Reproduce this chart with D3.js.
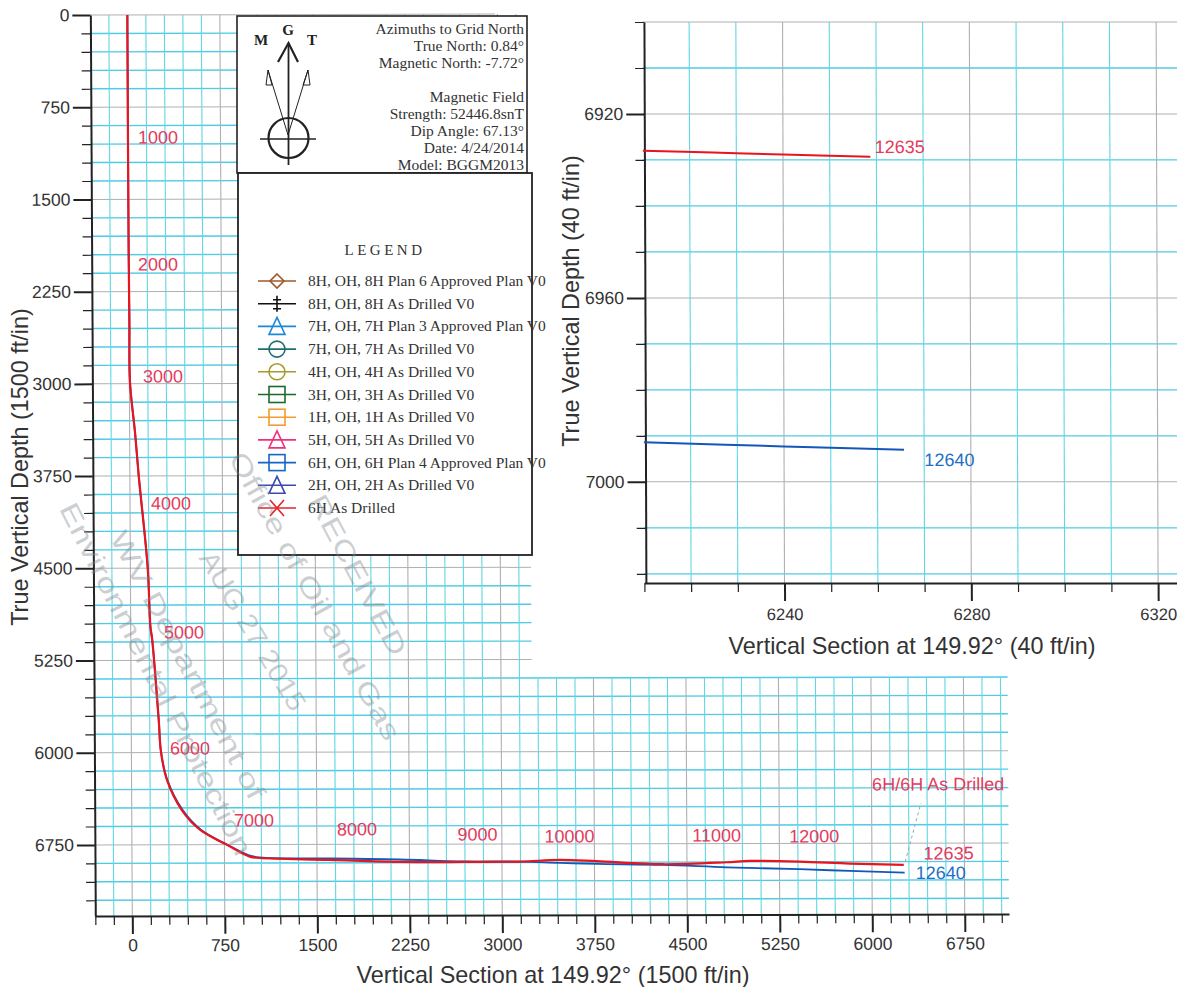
<!DOCTYPE html>
<html>
<head>
<meta charset="utf-8">
<script src="https://d3js.org/d3.v7.min.js"></script>
<style>
  html, body { margin: 0; background: #fff; overflow: hidden; }
  svg { display: block; }
  text { font-family: "Liberation Sans", Arial, sans-serif; }
  .serif text, text.serif { font-family: "Liberation Serif", "Times New Roman", serif; }
  .axis path, .axis line { stroke: #222; }
  .axis path { stroke-width: 2px; }
  .axis.major line { stroke-width: 2px; }
  .axis.minor line { stroke-width: 1.2px; }
  .axis text { fill: #333; font-family: "Liberation Sans", Arial, sans-serif; }
</style>
</head>
<body>
<svg id="chart" width="1177" height="987"></svg>
<script>
// well paths, vertical section / true vertical depth
const drilledVs = [0, 0, 3, 5, 44, 71, 140, 160, 174, 223, 240, 287, 405, 552, 768, 955, 1036, 1603, 2170, 2681, 3145, 3468, 3768, 4303, 4822, 5009, 5414, 5820, 6258];
const drilledTvd = [0, 1911, 2497, 2985, 3400, 3741, 4489, 4977, 5083, 5734, 5994, 6222, 6466, 6628, 6750, 6848, 6859, 6876, 6894, 6895, 6893, 6880, 6891, 6917, 6902, 6892, 6898, 6915, 6927];
const planVs = [0, 0, 3, 5, 44, 71, 140, 160, 174, 223, 240, 290, 412, 560, 768, 950, 1036, 1603, 2170, 2681, 3145, 3468, 3768, 4303, 4822, 5414, 5820, 6265];
const planTvd = [0, 1911, 2497, 2985, 3400, 3741, 4489, 4977, 5083, 5734, 5994, 6222, 6466, 6628, 6748, 6838, 6854, 6864, 6874, 6891, 6893, 6905, 6913, 6923, 6943, 6960, 6975, 6990];

// the same wells close up, in the inset
const insetDrilledVs = [6210, 6225, 6240, 6258.7];
const insetDrilledTvd = [6928, 6928.4, 6928.8, 6929.3];
const insetPlanVs = [6210, 6240, 6265.7];
const insetPlanTvd = [6991.4, 6992.3, 6993];

// measured depth labels, placed in chart units
const depthLabels = ['1000', '2000', '3000', '4000', '5000', '6000', '7000', '8000', '9000', '10000', '11000', '12000'];
const depthLabelVs = [243, 237, 272, 332, 431, 476, 991, 1826, 2803, 3549, 4741, 5533];
const depthLabelTvd = [1046, 2079, 2990, 4023, 5072, 6016, 6603, 6677, 6720, 6738, 6733, 6742];

const mainMajorTicks = d3.range(0, 7500, 750);
const mainMinorTicksX = d3.range(-300, 7200, 150);
const mainMinorTicksY = d3.range(0, 7300, 150);
const insetMajorX = [6240, 6280, 6320];
const insetMinorX = d3.range(6210, 6330, 10);
const insetMajorY = [6920, 6960, 7000];
const insetMinorY = d3.range(6900, 7030, 10);

const legendNames = ['8H, OH, 8H Plan 6 Approved Plan V0', '8H, OH, 8H As Drilled V0', '7H, OH, 7H Plan 3 Approved Plan V0', '7H, OH, 7H As Drilled V0', '4H, OH, 4H As Drilled V0', '3H, OH, 3H As Drilled V0', '1H, OH, 1H As Drilled V0', '5H, OH, 5H As Drilled V0', '6H, OH, 6H Plan 4 Approved Plan V0', '2H, OH, 2H As Drilled V0', '6H As Drilled'];
const legendColors = ['#a0582a', '#111111', '#1e88d8', '#1f6f70', '#a89a2a', '#1c6a2a', '#f59a30', '#f0307a', '#1565c8', '#3a4ab0', '#e8202a'];
const legendSymbols = ['diamond', 'bar', 'triangle', 'circle', 'circle', 'square', 'square', 'triangle', 'square', 'triangle', 'cross'];

const northLines = ['Azimuths to Grid North', 'True North: 0.84°', 'Magnetic North: -7.72°', '', 'Magnetic Field', 'Strength: 52446.8snT', 'Dip Angle: 67.13°', 'Date: 4/24/2014', 'Model: BGGM2013'];

const RED = '#e8141e';
const BLUE = '#1557b8';
const LABEL_RED = '#e63a5c';
const LABEL_BLUE = '#1f6fc4';
const GRID_CYAN = '#4fcbe4';
const GRID_GRAY = '#b0b0b4';

const svg = d3.select('#chart');
const path = (vs, tvd, x, y) =>
  d3.line().curve(d3.curveCatmullRom.alpha(0.5)).x(i => x(vs[i])).y(i => y(tvd[i]))(d3.range(vs.length));

const drawAxis = (g, makeAxis, scale, major, minor, fontSize, padding) => {
  const minorAxis = makeAxis(scale).tickValues(minor.filter(v => !major.includes(v))).tickSize(9).tickSizeOuter(0).tickFormat('');
  const majorAxis = makeAxis(scale).tickValues(major).tickSize(18).tickSizeOuter(0).tickPadding(padding).tickFormat(d => d);
  g.append('g').attr('class', 'axis minor').call(minorAxis);
  g.append('g').attr('class', 'axis major').call(majorAxis).attr('font-size', fontSize).select('.domain').remove();
};

const drawMain = () => {
  // the page was scanned a little out of square
  const a = 0.0055;
  const b = -0.0022;
  const g = svg.append('g').attr('transform', `matrix(1,${b},${a},1,${-a * 916},${-b * 96})`);
  const x = d3.scaleLinear().domain([-300, 7109]).range([95.3, 1009]);
  const y = d3.scaleLinear().domain([0, 7328]).range([15, 916]);
  const wideFrom = 5400;
  const narrowTo = 533;

  g.selectAll('.grid-h')
    .data(mainMinorTicksY)
    .enter()
    .append('line')
    .attr('x1', x(-300))
    .attr('x2', d => (d < 1300 ? 500 : d < wideFrom ? narrowTo : x(7109)))
    .attr('y1', d => y(d))
    .attr('y2', d => y(d))
    .attr('stroke', d => (d % 750 === 0 ? GRID_GRAY : GRID_CYAN))
    .attr('stroke-width', d => (d % 750 === 0 ? 1 : 1.4));

  g.selectAll('.grid-v')
    .data(mainMinorTicksX.filter(d => d > -300))
    .enter()
    .append('line')
    .attr('x1', d => x(d))
    .attr('x2', d => x(d))
    .attr('y1', d => (d > 3150 ? y(wideFrom) : y(0)))
    .attr('y2', y(7328))
    .attr('stroke', d => (d % 750 === 0 ? GRID_GRAY : '#62d6e4'))
    .attr('stroke-width', 1.1);

  const xAxis = g.append('g').attr('transform', `translate(0,${y(7328)})`);
  drawAxis(xAxis, d3.axisBottom, x, mainMajorTicks.slice(0, 10), mainMinorTicksX, 17.5, 5);
  const yAxis = g.append('g').attr('transform', `translate(${x(-300)},0)`);
  drawAxis(yAxis, d3.axisLeft, y, mainMajorTicks.slice(0, 10), mainMinorTicksY, 17.5, 3);

  g.append('path').attr('d', path(planVs, planTvd, x, y)).attr('fill', 'none').attr('stroke', BLUE).attr('stroke-width', 1.8);
  g.append('path').attr('d', path(drilledVs, drilledTvd, x, y)).attr('fill', 'none').attr('stroke', RED).attr('stroke-width', 2.2);

  g.selectAll('.depth')
    .data(depthLabels)
    .enter()
    .append('text')
    .attr('x', (d, i) => x(depthLabelVs[i]))
    .attr('y', (d, i) => y(depthLabelTvd[i]))
    .attr('text-anchor', 'middle')
    .attr('font-size', 18)
    .attr('fill', LABEL_RED)
    .text(d => d);

  // leader to the well name and the end labels
  g.append('line')
    .attr('x1', x(6270)).attr('y1', y(6900))
    .attr('x2', x(6400)).attr('y2', y(6424))
    .attr('stroke', '#9aa').attr('stroke-dasharray', '3 3').attr('stroke-width', 1);

  const endLabel = (text, vs, tvd, color) =>
    g.append('text').attr('x', x(vs)).attr('y', y(tvd)).attr('text-anchor', 'middle')
      .attr('font-size', 18).attr('fill', color).text(text);
  endLabel('6H/6H As Drilled', 6540, 6321, LABEL_RED);
  endLabel('12635', 6622, 6883, LABEL_RED);
  endLabel('12640', 6557, 7042, LABEL_BLUE);
};

const drawInset = () => {
  const g = svg.append('g').attr('transform', `matrix(1,0,0.0035,1,${-0.0035 * 582},0)`);
  const x = d3.scaleLinear().domain([6210, 6330]).range([644.4, 1204.8]);
  const y = d3.scaleLinear().domain([6900, 7022]).range([22, 583]);

  g.selectAll('.grid-h')
    .data(insetMinorY)
    .enter()
    .append('line')
    .attr('x1', x(6210)).attr('x2', 1190)
    .attr('y1', d => y(d)).attr('y2', d => y(d))
    .attr('stroke', d => (insetMajorY.includes(d) || d === 6900 ? GRID_GRAY : GRID_CYAN))
    .attr('stroke-width', d => (insetMajorY.includes(d) || d === 6900 ? 1 : 1.3));

  g.selectAll('.grid-v')
    .data(insetMinorX.filter(d => d > 6210))
    .enter()
    .append('line')
    .attr('x1', d => x(d)).attr('x2', d => x(d))
    .attr('y1', y(6900)).attr('y2', y(7022))
    .attr('stroke', d => (insetMajorX.includes(d) ? GRID_GRAY : '#62d6e4'))
    .attr('stroke-width', 1.1);

  const xAxis = g.append('g').attr('transform', `translate(0,${y(7022)})`);
  drawAxis(xAxis, d3.axisBottom, x, insetMajorX, insetMinorX, 16.6, 7);
  const yAxis = g.append('g').attr('transform', `translate(${x(6210) + 1.5},0)`);
  drawAxis(yAxis, d3.axisLeft, y, insetMajorY, insetMinorY, 17.5, 3);

  g.append('path').attr('d', path(insetDrilledVs, insetDrilledTvd, x, y)).attr('fill', 'none').attr('stroke', RED).attr('stroke-width', 2);
  g.append('path').attr('d', path(insetPlanVs, insetPlanTvd, x, y)).attr('fill', 'none').attr('stroke', BLUE).attr('stroke-width', 2);

  const endLabel = (text, vs, tvd, color) =>
    g.append('text').attr('x', x(vs)).attr('y', y(tvd)).attr('text-anchor', 'middle')
      .attr('font-size', 18).attr('fill', color).text(text);
  endLabel('12635', 6265, 6928.4, LABEL_RED);
  endLabel('12640', 6275.4, 6996.5, LABEL_BLUE);
};

const drawTitles = () => {
  const title = (text, x, y, size, rotate) =>
    svg.append('text')
      .attr('transform', `translate(${x},${y}) rotate(${rotate})`)
      .attr('text-anchor', 'middle')
      .attr('font-size', size)
      .attr('fill', '#333')
      .text(text);
  title('Vertical Section at 149.92° (1500 ft/in)', 553, 983, 23.4, 0);
  title('True Vertical Depth (1500 ft/in)', 28, 467, 23.4, -90);
  title('Vertical Section at 149.92° (40 ft/in)', 912, 654, 23.4, 0);
  title('True Vertical Depth (40 ft/in)', 579, 301, 23.4, -90);
};

const drawNorthBox = () => {
  const g = svg.append('g').attr('class', 'serif');
  g.append('rect').attr('x', 237).attr('y', 16).attr('width', 290).attr('height', 157)
    .attr('fill', '#fff').attr('stroke', '#222').attr('stroke-width', 1.6);
  g.selectAll('.north')
    .data(northLines)
    .enter()
    .append('text')
    .attr('x', 524)
    .attr('y', (d, i) => 34 + i * 17)
    .attr('text-anchor', 'end')
    .attr('font-size', 15.5)
    .attr('fill', '#333')
    .text(d => d);

  const compass = g.append('g').attr('fill', 'none').attr('stroke', '#222');
  compass.append('circle').attr('cx', 288.5).attr('cy', 138).attr('r', 20).attr('stroke-width', 2.2);
  compass.append('path').attr('d', 'M260,139H316').attr('stroke-width', 1.6);
  compass.append('path').attr('d', 'M288.5,165V43').attr('stroke-width', 1.8);
  compass.append('path').attr('d', 'M278,62L288.5,43L298,62').attr('stroke-width', 2.2);
  compass.append('path').attr('d', 'M288,135L268,70L266,85H272L268,70').attr('stroke-width', 1);
  compass.append('path').attr('d', 'M288,135L308,70L303,85H310L308,70').attr('stroke-width', 1);
  [['M', 261, 45], ['G', 288, 35], ['T', 312, 45]].forEach(([t, x, y]) =>
    g.append('text').attr('x', x).attr('y', y).attr('text-anchor', 'middle')
      .attr('font-size', 15).attr('font-weight', 'bold').attr('fill', '#222').text(t));
};

const drawSymbol = (g, type, color) => {
  g.append('line').attr('x1', -19).attr('x2', 19).attr('stroke', color).attr('stroke-width', 1.6);
  const s = g.append('g').attr('fill', 'none').attr('stroke', color).attr('stroke-width', 1.6);
  if (type === 'diamond') s.append('path').attr('d', 'M0,-7L7,0L0,7L-7,0Z');
  if (type === 'bar') s.append('path').attr('d', 'M0,-8V8M-4,-4H4M-4,5H4');
  if (type === 'triangle') s.append('path').attr('d', 'M0,-9L8,8H-8Z');
  if (type === 'circle') s.append('circle').attr('r', 8);
  if (type === 'square') s.append('rect').attr('x', -8).attr('y', -8).attr('width', 16).attr('height', 16);
  if (type === 'cross') s.append('path').attr('d', 'M-7,-8L7,8M-7,8L7,-8');
};

const drawLegend = () => {
  const g = svg.append('g').attr('class', 'serif');
  g.append('rect').attr('x', 238).attr('y', 173).attr('width', 294).attr('height', 382)
    .attr('fill', '#fff').attr('stroke', '#222').attr('stroke-width', 1.8);
  g.append('text').attr('x', 385).attr('y', 255).attr('text-anchor', 'middle')
    .attr('font-size', 15).attr('letter-spacing', 3.5).attr('fill', '#333').text('LEGEND');
  const rowY = d3.scaleLinear().domain([0, 10]).range([281, 508]);
  const rows = g.selectAll('.row')
    .data(legendNames)
    .enter()
    .append('g')
    .attr('transform', (d, i) => `translate(277,${rowY(i)})`);
  rows.each(function (d, i) {
    drawSymbol(d3.select(this), legendSymbols[i], legendColors[i]);
  });
  rows.append('text')
    .attr('x', 31)
    .attr('y', 5)
    .attr('font-size', 15.5)
    .attr('fill', '#333')
    .text(d => d);
};

const drawStamp = () => {
  const lines = [
    ['RECEIVED', 356, 576, 62, 178],
    ['Office of Oil and Gas', 313, 597, 61, 325],
    ['AUG 27 2015', 251, 632, 59, 181],
    ['WV Department of', 186, 666, 62, 300],
    ['Environmental Protection', 154, 680, 63, 392]
  ];
  lines.forEach(([text, x, y, angle, length]) =>
    svg.append('text')
      .attr('transform', `translate(${x},${y}) rotate(${angle})`)
      .attr('text-anchor', 'middle')
      .attr('dominant-baseline', 'middle')
      .attr('font-size', 27)
      .attr('textLength', length)
      .attr('lengthAdjust', 'spacingAndGlyphs')
      .attr('fill', '#7f8b90')
      .attr('fill-opacity', 0.42)
      .text(text));
};

drawMain();
drawInset();
drawTitles();
drawNorthBox();
drawLegend();
drawStamp();
</script>
</body>
</html>
